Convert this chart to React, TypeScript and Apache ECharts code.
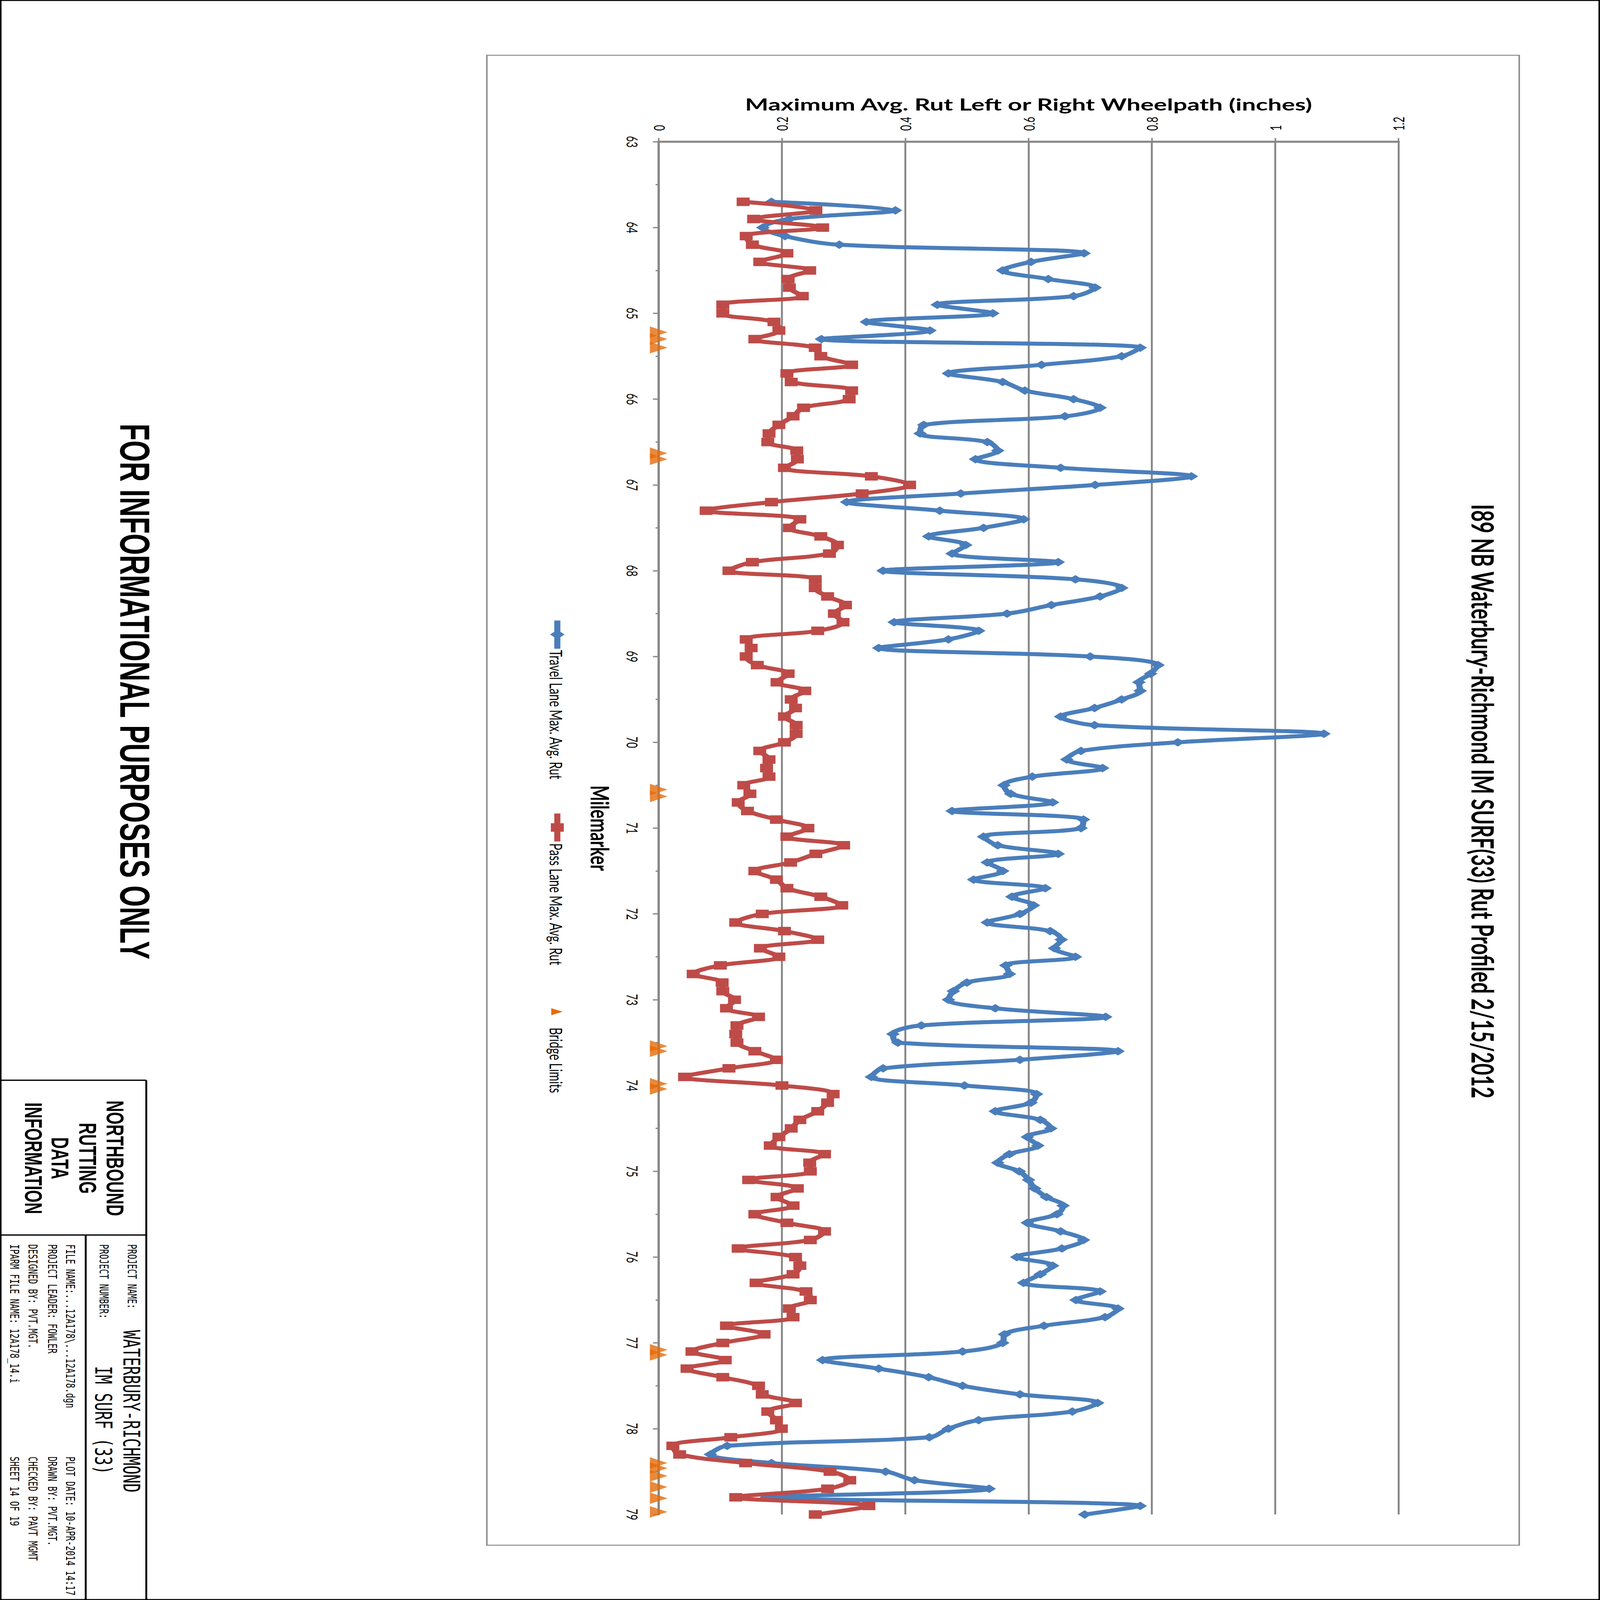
import React, { useEffect, useRef } from "react";
import * as echarts from "echarts";

// ---------- data ----------
const MILES = [
  63.7, 63.8, 63.9,
  64.0, 64.1, 64.2, 64.3, 64.4, 64.5, 64.6, 64.7, 64.8, 64.9,
  65.0, 65.1, 65.2, 65.3, 65.4, 65.5, 65.6, 65.7, 65.8, 65.9,
  66.0, 66.1, 66.2, 66.3, 66.4, 66.5, 66.6, 66.7, 66.8, 66.9,
  67.0, 67.1, 67.2, 67.3, 67.4, 67.5, 67.6, 67.7, 67.8, 67.9,
  68.0, 68.1, 68.2, 68.3, 68.4, 68.5, 68.6, 68.7, 68.8, 68.9,
  69.0, 69.1, 69.2, 69.3, 69.4, 69.5, 69.6, 69.7, 69.8, 69.9,
  70.0, 70.1, 70.2, 70.3, 70.4, 70.5, 70.6, 70.7, 70.8, 70.9,
  71.0, 71.1, 71.2, 71.3, 71.4, 71.5, 71.6, 71.7, 71.8, 71.9,
  72.0, 72.1, 72.2, 72.3, 72.4, 72.5, 72.6, 72.7, 72.8, 72.9,
  73.0, 73.1, 73.2, 73.3, 73.4, 73.5, 73.6, 73.7, 73.8, 73.9,
  74.0, 74.1, 74.2, 74.3, 74.4, 74.5, 74.6, 74.7, 74.8, 74.9,
  75.0, 75.1, 75.2, 75.3, 75.4, 75.5, 75.6, 75.7, 75.8, 75.9,
  76.0, 76.1, 76.2, 76.3, 76.4, 76.5, 76.6, 76.7, 76.8, 76.9,
  77.0, 77.1, 77.2, 77.3, 77.4, 77.5, 77.6, 77.7, 77.8, 77.9,
  78.0, 78.1, 78.2, 78.3, 78.4, 78.5, 78.6, 78.7, 78.8, 78.9,
  79.0,
];

const TRAVEL_LANE = [
  0.183, 0.384, 0.212,
  0.169, 0.205, 0.293, 0.69, 0.604, 0.558, 0.632, 0.708, 0.673, 0.452,
  0.542, 0.337, 0.44, 0.264, 0.781, 0.751, 0.621, 0.47, 0.558, 0.594,
  0.673, 0.716, 0.659, 0.43, 0.424, 0.533, 0.55, 0.514, 0.652, 0.864,
  0.708, 0.49, 0.305, 0.456, 0.592, 0.527, 0.438, 0.498, 0.476, 0.648,
  0.364, 0.676, 0.751, 0.716, 0.637, 0.565, 0.382, 0.519, 0.47, 0.357,
  0.7, 0.81, 0.798, 0.779, 0.781, 0.751, 0.707, 0.652, 0.707, 1.079,
  0.842, 0.685, 0.662, 0.72, 0.606, 0.56, 0.571, 0.639, 0.476, 0.689,
  0.685, 0.527, 0.55, 0.648, 0.533, 0.558, 0.511, 0.627, 0.573, 0.608,
  0.586, 0.533, 0.635, 0.653, 0.642, 0.676, 0.563, 0.569, 0.5, 0.478,
  0.47, 0.546, 0.725, 0.426, 0.38, 0.388, 0.745, 0.586, 0.364, 0.345,
  0.496, 0.613, 0.604, 0.546, 0.619, 0.636, 0.598, 0.615, 0.569, 0.55,
  0.585, 0.6, 0.61, 0.629, 0.656, 0.646, 0.598, 0.652, 0.689, 0.654,
  0.581, 0.639, 0.619, 0.592, 0.716, 0.677, 0.745, 0.724, 0.625, 0.561,
  0.558, 0.493, 0.266, 0.357, 0.438, 0.493, 0.586, 0.712, 0.671, 0.519,
  0.47, 0.439, 0.111, 0.084, 0.183, 0.368, 0.415, 0.536, 0.175, 0.781,
  0.691,
];

const PASS_LANE = [
  0.137, 0.255, 0.154,
  0.266, 0.142, 0.152, 0.208, 0.164, 0.245, 0.21, 0.212, 0.233, 0.104,
  0.104, 0.187, 0.195, 0.156, 0.254, 0.263, 0.313, 0.208, 0.215, 0.313,
  0.309, 0.235, 0.218, 0.195, 0.179, 0.177, 0.224, 0.225, 0.204, 0.345,
  0.407, 0.33, 0.183, 0.077, 0.229, 0.212, 0.263, 0.29, 0.277, 0.152,
  0.114, 0.254, 0.254, 0.274, 0.303, 0.285, 0.299, 0.258, 0.142, 0.15,
  0.142, 0.16, 0.21, 0.192, 0.237, 0.215, 0.222, 0.204, 0.223, 0.223,
  0.204, 0.164, 0.179, 0.175, 0.179, 0.138, 0.148, 0.129, 0.144, 0.191,
  0.242, 0.208, 0.3, 0.255, 0.214, 0.156, 0.191, 0.208, 0.263, 0.297,
  0.168, 0.125, 0.204, 0.258, 0.165, 0.195, 0.1, 0.056, 0.103, 0.104,
  0.123, 0.11, 0.162, 0.127, 0.125, 0.127, 0.156, 0.191, 0.114, 0.042,
  0.2, 0.283, 0.274, 0.258, 0.229, 0.215, 0.195, 0.181, 0.269, 0.245,
  0.246, 0.146, 0.225, 0.192, 0.218, 0.156, 0.208, 0.269, 0.246, 0.129,
  0.222, 0.229, 0.218, 0.158, 0.239, 0.246, 0.212, 0.218, 0.11, 0.171,
  0.104, 0.054, 0.108, 0.046, 0.104, 0.162, 0.168, 0.222, 0.177, 0.191,
  0.199, 0.117, 0.023, 0.034, 0.141, 0.278, 0.31, 0.274, 0.125, 0.341,
  0.254,
];

// bridge limit markers (milemarker positions, drawn at value 0)
const BRIDGE_LIMITS = [
  65.22, 65.3, 65.4, 66.63, 66.7, 70.55, 70.63, 73.54, 73.6, 73.98, 74.04,
  77.08, 77.14, 78.4, 78.46, 78.55, 78.68, 78.81, 78.97,
];

const MILE_MIN = 63;
const MILE_MAX = 79;
const MILE_STEP = 1;
const RUT_MIN = 0;
const RUT_MAX = 1.2;
const RUT_STEP = 0.2;

const TITLE = "I89 NB Waterbury-Richmond IM SURF(33) Rut Profiled 2/15/2012";
const VALUE_AXIS_TITLE = "Maximum Avg. Rut Left or Right Wheelpath (inches)";
const MILE_AXIS_TITLE = "Milemarker";
const SERIES_NAMES = [
  "Travel Lane Max. Avg. Rut",
  "Pass Lane Max. Avg. Rut",
  "Bridge Limits",
];

// ---------- styles ----------
const BLUE = "#4A7EBB";
const RED = "#BE4B48";
const ORANGE = "#E46C0A";
const GRID_GREY = "#878787";
const FONT = "Lato, 'Noto Sans', sans-serif";
const ARIAL = "'Liberation Sans', Arial, sans-serif";
const MONO = "'DejaVu Sans Mono', 'Liberation Mono', monospace";

// design size of the sheet
const W = 4200;
const H = 6400;

if (typeof document !== "undefined") {
  document.body.style.margin = "0";
  document.body.style.padding = "0";
  document.body.style.overflow = "hidden";
  document.documentElement.style.overflow = "hidden";
}

function rotText(
  text: string,
  x: number,
  y: number,
  size: number,
  family: string,
  weight: string,
  align: string
) {
  return {
    type: "text",
    x,
    y,
    rotation: -Math.PI / 2,
    silent: true,
    z: 10,
    style: {
      text,
      x: 0,
      y: 0,
      fill: "#000",
      fontSize: size,
      fontFamily: family,
      fontWeight: weight,
      align,
      verticalAlign: "middle",
      textAlign: align,
      textVerticalAlign: "middle",
    },
  };
}

function line(x1: number, y1: number, x2: number, y2: number, color: string, w: number) {
  return {
    type: "line",
    silent: true,
    shape: { x1, y1, x2, y2 },
    style: { stroke: color, lineWidth: w },
    z: 5,
  };
}

function buildOption() {
  const graphics: any[] = [
    {
      type: "rect",
      silent: true,
      shape: { x: 2, y: 2, width: W - 4, height: H - 4 },
      style: { fill: "none", stroke: "#000", lineWidth: 4 },
      z: 5,
    },
    {
      type: "rect",
      silent: true,
      shape: { x: 1278, y: 221, width: 2710, height: 5960 },
      style: { fill: "none", stroke: "#8C8C8C", lineWidth: 4 },
      z: 1,
    },
    line(2, 4321, 384, 4321, "#000", 5),
    line(384, 4321, 384, H - 2, "#000", 5),
    line(2, 4940, 384, 4940, "#000", 5),
    line(225, 4940, 225, H - 2, "#000", 5),

    rotText(TITLE, 3894, 3205, 80, FONT, "bold", "center"),

    line(1463, 2482, 1463, 2595, BLUE, 16),
    {
      type: "polygon",
      silent: true,
      shape: { points: [[1463, 2519], [1482, 2538], [1463, 2557], [1444, 2538]] },
      style: { fill: BLUE },
      z: 6,
    },
    rotText(SERIES_NAMES[0], 1460, 2600, 46, FONT, "normal", "left"),
    line(1463, 3254, 1463, 3366, RED, 16),
    {
      type: "rect",
      silent: true,
      shape: { x: 1446, y: 3293, width: 34, height: 34 },
      style: { fill: RED },
      z: 6,
    },
    rotText(SERIES_NAMES[1], 1460, 3373, 46, FONT, "normal", "left"),
    {
      type: "polygon",
      silent: true,
      shape: { points: [[1447, 4033], [1447, 4061], [1477, 4047]] },
      style: { fill: ORANGE },
      z: 6,
    },
    rotText(SERIES_NAMES[2], 1460, 4110, 46, FONT, "normal", "left"),

    rotText("FOR INFORMATIONAL PURPOSES ONLY", 354, 2766, 110, ARIAL, "bold", "center"),

    rotText("NORTHBOUND", 302, 4633, 64, ARIAL, "bold", "center"),
    rotText("RUTTING", 231, 4633, 64, ARIAL, "bold", "center"),
    rotText("DATA", 158, 4633, 64, ARIAL, "bold", "center"),
    rotText("INFORMATION", 88, 4633, 64, ARIAL, "bold", "center"),

    rotText("PROJECT NAME:", 347, 4977, 33, MONO, "normal", "left"),
    rotText("WATERBURY-RICHMOND", 345, 5320, 60, MONO, "normal", "left"),
    rotText("PROJECT NUMBER:", 273, 4977, 33, MONO, "normal", "left"),
    rotText("IM SURF (33)", 271, 5464, 60, MONO, "normal", "left"),

    rotText("FILE NAME:...12A178\\...12A178.dgn", 185, 4977, 33, MONO, "normal", "left"),
    rotText("PLOT DATE: 10-APR-2014 14:17", 185, 5826, 33, MONO, "normal", "left"),
    rotText("PROJECT LEADER: FOWLER", 138, 4977, 33, MONO, "normal", "left"),
    rotText("DRAWN BY: PVT.MGT.", 138, 5826, 33, MONO, "normal", "left"),
    rotText("DESIGNED BY: PVT.MGT.", 86, 4977, 33, MONO, "normal", "left"),
    rotText("CHECKED BY: PAVT MGMT", 86, 5826, 33, MONO, "normal", "left"),
    rotText("IPARM FILE NAME: 12A178_14.i", 38, 4977, 33, MONO, "normal", "left"),
    rotText("SHEET 14 OF 19", 38, 5826, 33, MONO, "normal", "left"),
  ];

  const travelData = MILES.map((m, i) => [TRAVEL_LANE[i], m]);
  const passData = MILES.map((m, i) => [PASS_LANE[i], m]);
  const bridgeData = BRIDGE_LIMITS.map((m) => [0, m]);

  return {
    animation: false,
    backgroundColor: "#fff",
    textStyle: { fontFamily: FONT },
    grid: {
      left: 1729,
      top: 567,
      width: 1942,
      height: 5491,
      containLabel: false,
      outerBoundsMode: "none",
    },
    xAxis: {
      type: "value",
      position: "top",
      min: RUT_MIN,
      max: RUT_MAX,
      interval: RUT_STEP,
      name: VALUE_AXIS_TITLE,
      nameLocation: "middle",
      nameGap: 118,
      nameTextStyle: { fontSize: 65, fontWeight: "bold", fontFamily: FONT, color: "#000" },
      axisLine: { show: true, onZero: false, lineStyle: { color: GRID_GREY, width: 8 } },
      axisTick: { show: true, length: 15, lineStyle: { color: GRID_GREY, width: 4 } },
      axisLabel: { show: true, rotate: -90, margin: 44, fontSize: 40, fontFamily: FONT, color: "#000" },
      splitLine: { show: true, lineStyle: { color: GRID_GREY, width: 5 } },
    },
    yAxis: {
      type: "value",
      position: "left",
      inverse: true,
      min: MILE_MIN,
      max: MILE_MAX,
      interval: MILE_STEP,
      name: MILE_AXIS_TITLE,
      nameLocation: "middle",
      nameRotate: -90,
      nameGap: 119,
      nameTextStyle: { fontSize: 67, fontWeight: "bold", fontFamily: FONT, color: "#000" },
      axisLine: { show: true, onZero: false, lineStyle: { color: GRID_GREY, width: 6 } },
      axisTick: { show: true, length: 15, lineStyle: { color: GRID_GREY, width: 5 } },
      minorTick: { show: true, splitNumber: 2, length: 8, lineStyle: { color: GRID_GREY, width: 5 } },
      axisLabel: { show: true, rotate: -90, margin: 48, fontSize: 40, fontFamily: FONT, color: "#000" },
      splitLine: { show: false },
    },
    graphic: { elements: graphics },
    series: [
      {
        name: SERIES_NAMES[0],
        type: "line",
        data: travelData,
        smooth: 0.35,
        symbol: "diamond",
        symbolSize: [36, 34],
        lineStyle: { color: BLUE, width: 16 },
        itemStyle: { color: BLUE },
        clip: false,
        z: 2,
        silent: true,
      },
      {
        name: SERIES_NAMES[1],
        type: "line",
        data: passData,
        smooth: 0.35,
        symbol: "rect",
        symbolSize: 34,
        lineStyle: { color: RED, width: 16 },
        itemStyle: { color: RED },
        clip: false,
        z: 3,
        silent: true,
      },
      {
        name: SERIES_NAMES[2],
        type: "scatter",
        data: bridgeData,
        symbol: "triangle",
        symbolSize: 46,
        symbolRotate: -90,
        itemStyle: { color: ORANGE },
        clip: false,
        z: 4,
        silent: true,
      },
    ],
  };
}

export default function App() {
  const ref = useRef<HTMLDivElement>(null);
  // the sheet is designed at 4200x6400; fit it into the real viewport
  const vw = typeof window !== "undefined" && window.innerWidth ? window.innerWidth : W;
  const vh = typeof window !== "undefined" && window.innerHeight ? window.innerHeight : H;
  const sx = Math.min(1, vw / W);
  const sy = Math.min(1, vh / H);

  useEffect(() => {
    if (!ref.current) return;
    const chart = echarts.init(ref.current, null, { renderer: "svg", width: W, height: H });
    chart.setOption(buildOption() as any);
    return () => {
      chart.dispose();
    };
  }, []);

  return (
    <div
      style={{
        position: "relative",
        width: Math.round(W * sx),
        height: Math.round(H * sy),
        overflow: "hidden",
        background: "#fff",
      }}
    >
      <div
        ref={ref}
        style={{
          position: "absolute",
          left: 0,
          top: 0,
          width: W,
          height: H,
          transform: `scale(${sx}, ${sy})`,
          transformOrigin: "0 0",
        }}
      />
    </div>
  );
}
